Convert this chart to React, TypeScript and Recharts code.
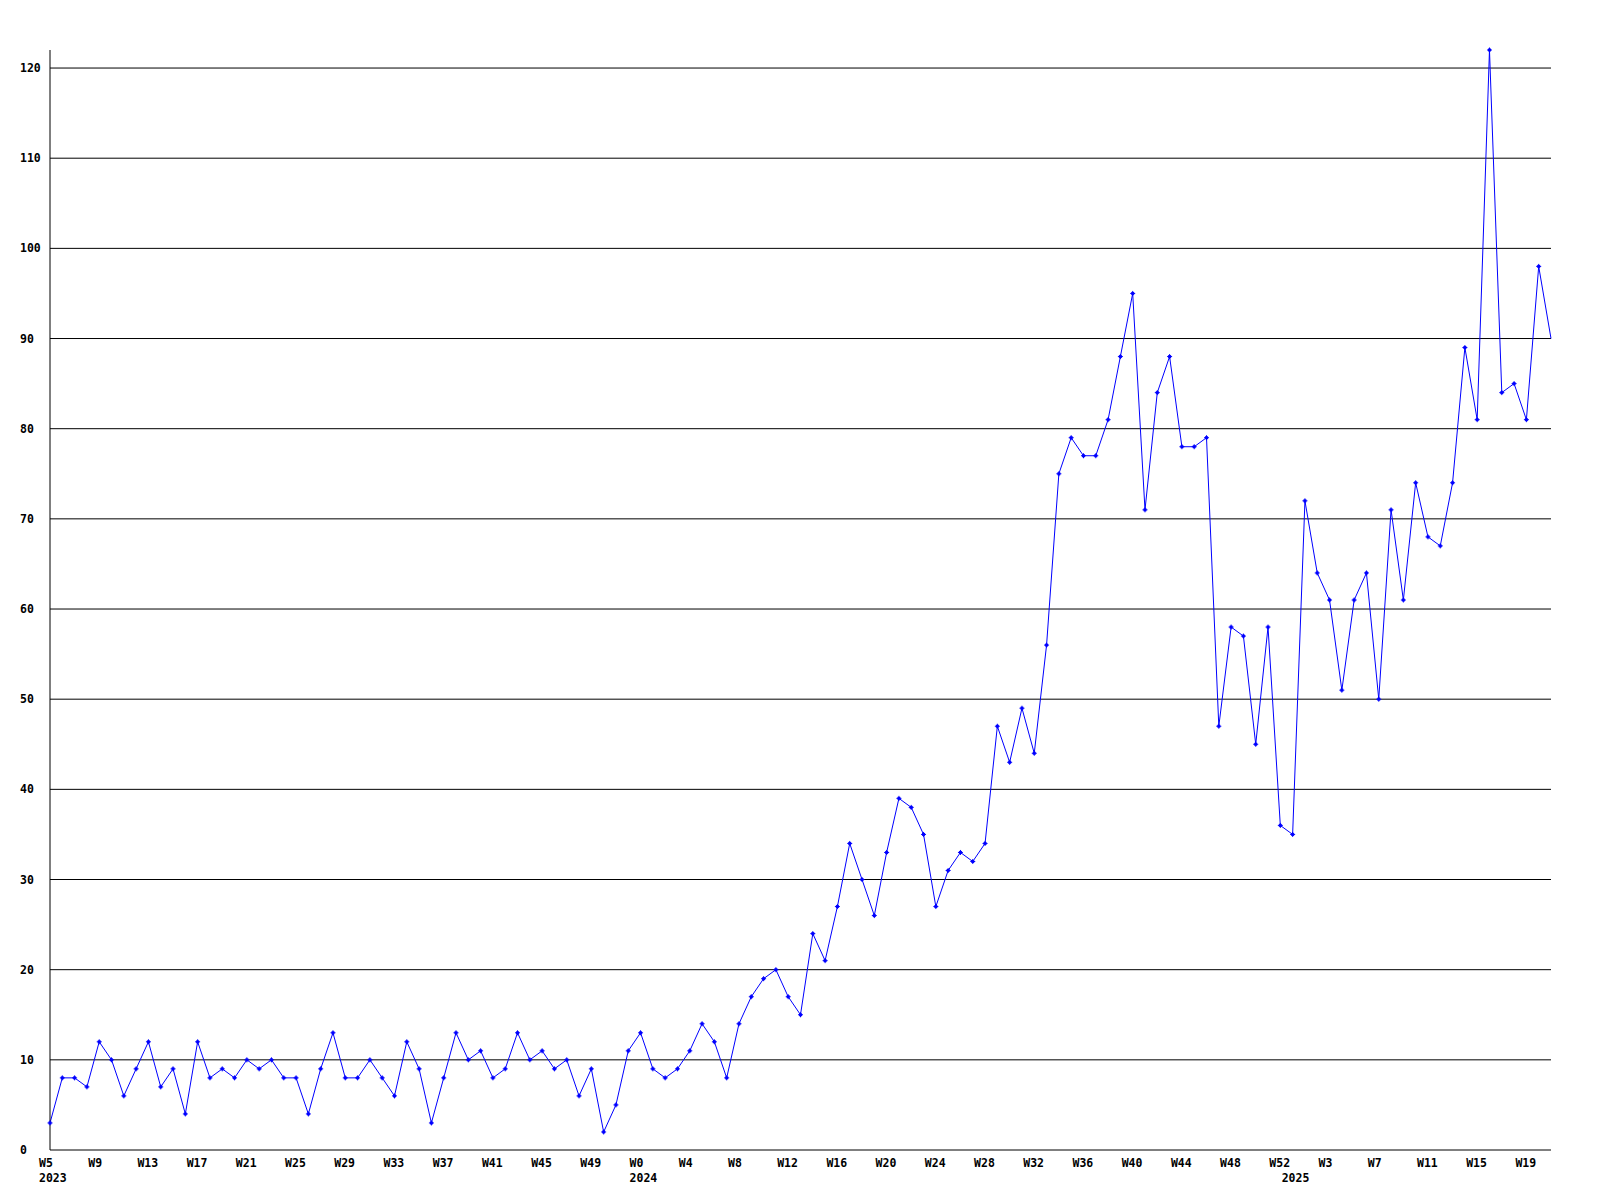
import React from 'react';
import { LineChart, Line, XAxis, YAxis, CartesianGrid } from 'recharts';

// Weekly values
const values2023 = [3, 8, 8, 7, 12, 10, 6, 9, 12, 7, 9, 4, 12, 8, 9, 8, 10, 9, 10, 8, 8, 4, 9, 13, 8, 8, 10, 8, 6, 12, 9, 3, 8, 13, 10, 11, 8, 9, 13, 10, 11, 9, 10, 6, 9, 2, 5, 11];
const weeks2023 = [5, 6, 7, 8, 9, 10, 11, 12, 13, 14, 15, 16, 17, 18, 19, 20, 21, 22, 23, 24, 25, 26, 27, 28, 29, 30, 31, 32, 33, 34, 35, 36, 37, 38, 39, 40, 41, 42, 43, 44, 45, 46, 47, 48, 49, 50, 51, 52];
const values2024 = [13, 9, 8, 9, 11, 14, 12, 8, 14, 17, 19, 20, 17, 15, 24, 21, 27, 34, 30, 26, 33, 39, 38, 35, 27, 31, 33, 32, 34, 47, 43, 49, 44, 56, 75, 79, 77, 77, 81, 88, 95, 71, 84, 88, 78, 78, 79, 47, 58, 57, 45, 58, 36];
const weeks2024 = [0, 1, 2, 3, 4, 5, 6, 7, 8, 9, 10, 11, 12, 13, 14, 15, 16, 17, 18, 19, 20, 21, 22, 23, 24, 25, 26, 27, 28, 29, 30, 31, 32, 33, 34, 35, 36, 37, 38, 39, 40, 41, 42, 43, 44, 45, 46, 47, 48, 49, 50, 51, 52];
const values2025 = [35, 72, 64, 61, 51, 61, 64, 50, 71, 61, 74, 68, 67, 74, 89, 81, 122, 84, 85, 81, 98, 90];
const weeks2025 = [0, 1, 2, 3, 4, 5, 6, 7, 8, 9, 10, 11, 12, 13, 14, 15, 16, 17, 18, 19, 20, 21];
const years = [2023, 2024, 2025];
const yTicks = [0, 10, 20, 30, 40, 50, 60, 70, 80, 90, 100, 110, 120];

type Row = { i: number; week: number; year: number; yearStart: boolean; value: number };

const data: Row[] = [];
[[weeks2023, values2023], [weeks2024, values2024], [weeks2025, values2025]].forEach(([wk, vals], yi) => {
  (wk as number[]).forEach((w, k) => {
    data.push({ i: data.length, week: w, year: years[yi], yearStart: k === 0, value: (vals as number[])[k] });
  });
});

const lastIndex = data.length - 1;
const xTicks = data.filter((d) => d.i % 4 === 0 || d.yearStart).map((d) => d.i);

const FONT = '"DejaVu Sans Mono", "Liberation Mono", monospace';

const XTick = (props: any) => {
  const { x, payload } = props;
  const row = data[payload.value];
  if (!row) return null;
  return (
    <g>
      {row.i % 4 === 0 && (
        <text x={x - 11} y={1167} textAnchor="start" fontFamily={FONT} fontWeight="bold" fontSize={11.5} fill="#000">
          {'W' + row.week}
        </text>
      )}
      {row.yearStart && (
        <text x={x - 11} y={1182} textAnchor="start" fontFamily={FONT} fontWeight="bold" fontSize={11.5} fill="#000">
          {row.year}
        </text>
      )}
    </g>
  );
};

const YTick = (props: any) => {
  const { y, payload } = props;
  return (
    <text x={20} y={y + 4} textAnchor="start" fontFamily={FONT} fontWeight="bold" fontSize={11.5} fill="#000">
      {payload.value}
    </text>
  );
};

const Marker = (props: any) => {
  const { cx, cy, index } = props;
  if (cx == null || cy == null || index === lastIndex) return null;
  return (
    <g fill="#0000ff">
      <rect x={cx - 1.5} y={cy - 1.5} width={3} height={3} />
      <rect x={cx - 2.5} y={cy - 0.5} width={5} height={1} />
      <rect x={cx - 0.5} y={cy - 2.5} width={1} height={5} />
    </g>
  );
};

export default function App() {
  return (
    <div style={{ position: 'absolute', left: 0, top: 0, background: '#fff' }}>
      <LineChart width={1600} height={1200} data={data} margin={{ top: 50, right: 49, left: 0, bottom: 0 }}>
        <CartesianGrid vertical={false} horizontal={true} stroke="#000" strokeWidth={1} horizontalValues={yTicks.filter((t) => t > 0)} />
        <XAxis
          dataKey="i"
          type="number"
          domain={[0, lastIndex]}
          ticks={xTicks}
          interval={0}
          height={50}
          axisLine={{ stroke: '#000', strokeWidth: 1 }}
          tickLine={false}
          tick={<XTick />}
          allowDecimals={false}
        />
        <YAxis
          type="number"
          domain={[0, 122]}
          ticks={yTicks}
          interval={0}
          width={50}
          axisLine={{ stroke: '#000', strokeWidth: 1 }}
          tickLine={false}
          tick={<YTick />}
        />
        <Line
          type="linear"
          dataKey="value"
          stroke="#0000ff"
          strokeWidth={1}
          dot={<Marker />}
          activeDot={false}
          isAnimationActive={false}
        />
      </LineChart>
    </div>
  );
}
